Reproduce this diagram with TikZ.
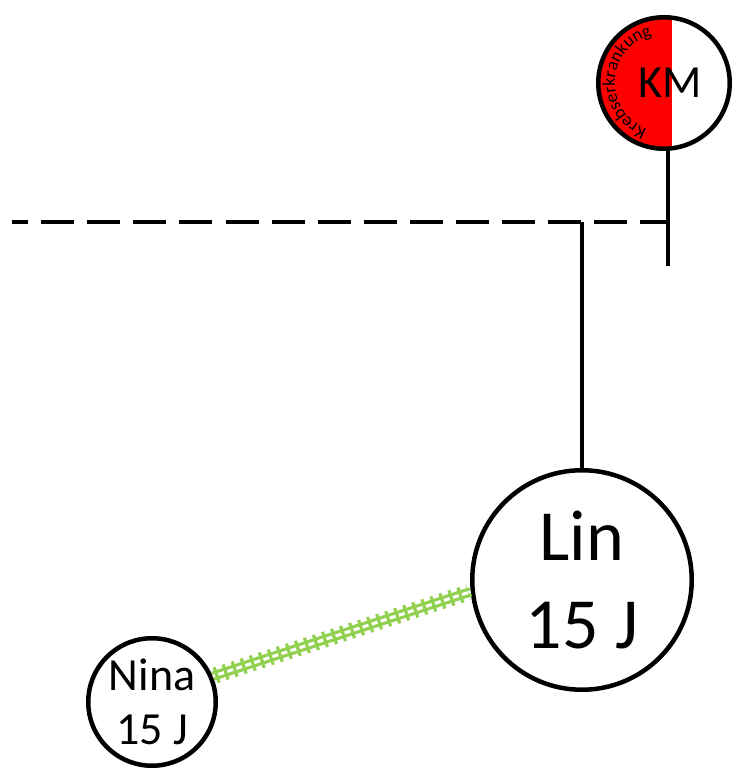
\documentclass[tikz,border=0pt]{standalone}
\usepackage{fontspec}
\setmainfont{Carlito}
\usetikzlibrary{decorations.text}
\definecolor{kgreen}{HTML}{92D050}
\begin{document}
\begin{tikzpicture}[x=1pt,y=1pt,
  person/.style={circle, draw=black, line width=4.5pt, inner sep=0pt, align=center, fill=white},
  conn/.style={line width=3.5pt, black},
  rails/.style={kgreen, line width=3.2pt, double=white, double distance=3pt},
  ties/.style={kgreen, line width=16pt, dash pattern=on 3.2pt off 6.3pt, shorten >=2.5pt, shorten <=2.5pt},
]
\useasboundingbox (0,0) rectangle (734,771);
\node[person, minimum size=131.5pt,
  path picture={\fill[red] (path picture bounding box.south west) rectangle ([xshift=8pt]path picture bounding box.north);},
  label={[xshift=6pt, font=\fontsize{46}{46}\selectfont]center:KM}] (KM) at (664,688) {};
\node[person, minimum size=219.5pt, font=\fontsize{72}{88}\selectfont] (Lin) at (582,191) {Lin\\15 J};
\node[person, minimum size=127.5pt, font=\fontsize{46}{54}\selectfont] (Nina) at (152,69) {Nina\\15 J};
\path[decorate, decoration={text along path, text={|\fontsize{18}{18}\selectfont|Krebserkrankung}, text align=center}]
  ([shift={(262:49)}]KM.center) arc[start angle=262, end angle=92, radius=49];
\coordinate (dstart) at (12,549);
\coordinate (kmj) at (668,549);
\coordinate (kmend) at (668,505);
\coordinate (linj) at (582,549);
\draw[conn, dash pattern=on 33pt off 13.1pt, dash phase=17pt] (dstart) -- (kmj);
\draw[conn] (KM.south -| kmj) -- (kmend);
\draw[conn] (Lin.north) -- (linj);
\draw[rails] (Nina.23) -- (Lin.186);
\draw[ties] (Nina.23) -- (Lin.186);
\end{tikzpicture}
\end{document}
